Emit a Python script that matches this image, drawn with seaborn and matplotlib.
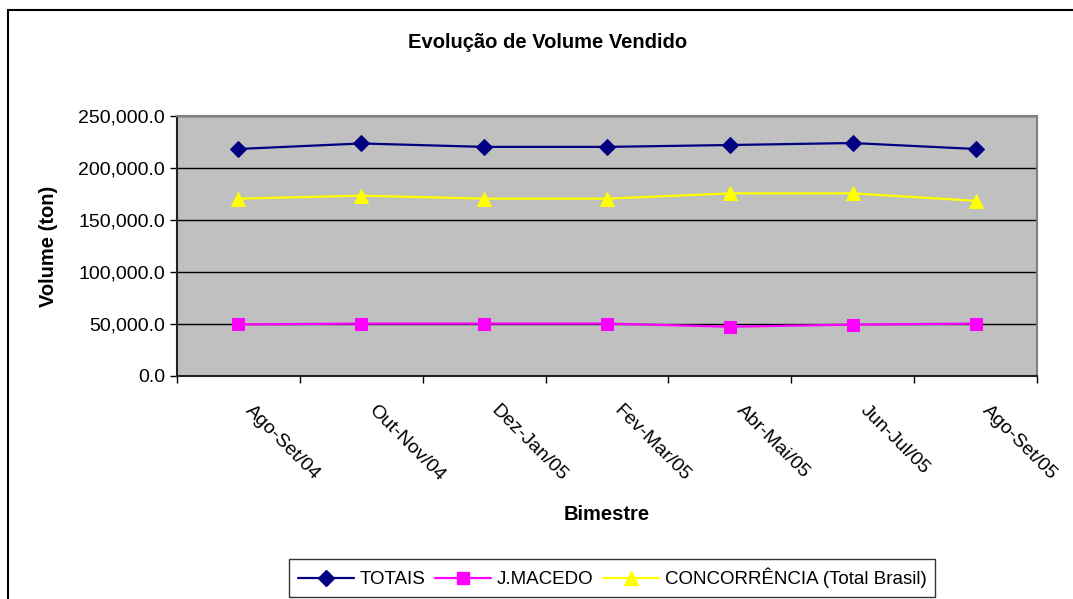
import numpy as np
import pandas as pd
import matplotlib
matplotlib.use("Agg")
import matplotlib.pyplot as plt
from matplotlib.lines import Line2D
from matplotlib.ticker import FuncFormatter, FixedLocator
import seaborn as sns

bimestres = ["Ago-Set/04", "Out-Nov/04", "Dez-Jan/05", "Fev-Mar/05",
             "Abr-Mai/05", "Jun-Jul/05", "Ago-Set/05"]
totais = [218300, 223600, 220300, 220300, 222100, 224000, 218300]
jmacedo = [49600, 50400, 50400, 50400, 47400, 49400, 50400]
concorrencia = [170500, 173400, 170500, 170500, 175600, 175600, 168500]
series_names = ["TOTAIS", "J.MACEDO", "CONCORRÊNCIA (Total Brasil)"]

sns.set_style("white")
plt.rcParams["font.family"] = ["Liberation Sans", "DejaVu Sans"]
for key in ["text.color", "axes.labelcolor", "xtick.color", "ytick.color"]:
    plt.rcParams[key] = "black"

df = pd.DataFrame({
    "pos": list(range(len(bimestres))) * 3,
    "volume": totais + jmacedo + concorrencia,
    "serie": [s for s in series_names for _ in bimestres],
})

colors = {"TOTAIS": "#000080", "J.MACEDO": "#FF00FF",
          "CONCORRÊNCIA (Total Brasil)": "#FFFF00"}
markers = {"TOTAIS": "D", "J.MACEDO": "s", "CONCORRÊNCIA (Total Brasil)": "^"}
msizes = {"TOTAIS": 8, "J.MACEDO": 8.5, "CONCORRÊNCIA (Total Brasil)": 10}

fig = plt.figure(figsize=(10.73, 5.99), dpi=100)
ax = fig.add_axes([177 / 1073, 1 - 376 / 599, 860 / 1073, 260 / 599])
ax.set_facecolor("#C0C0C0")

for name in series_names:
    sub = df[df["serie"] == name]
    sns.lineplot(data=sub, x="pos", y="volume", ax=ax, color=colors[name],
                 marker=markers[name], markersize=msizes[name],
                 markeredgecolor=colors[name], linewidth=1.6, legend=False)

ax.set_xlim(-0.5, len(bimestres) - 0.5)
ax.set_ylim(0, 250000)
ax.yaxis.set_major_locator(FixedLocator(np.arange(0, 250001, 50000)))
ax.yaxis.set_major_formatter(FuncFormatter(lambda v, p: f"{v:,.1f}"))
ax.grid(axis="y", color="black", linewidth=1)
ax.set_axisbelow(True)

ax.xaxis.set_major_locator(FixedLocator(np.arange(-0.5, len(bimestres), 1)))
ax.set_xticklabels([])
ax.tick_params(axis="both", direction="out", length=5, width=1, color="black",
               labelsize=14, bottom=True, left=True)
for i, lab in enumerate(bimestres):
    ax.annotate(lab, xy=(i, 0), xycoords=("data", "axes fraction"),
                xytext=(7, -23), textcoords="offset points",
                rotation=-45, rotation_mode="anchor", ha="left", va="center",
                fontsize=14)

for side in ["top", "right"]:
    ax.spines[side].set_color("#808080")
    ax.spines[side].set_linewidth(1.5)
for side in ["bottom", "left"]:
    ax.spines[side].set_color("#222222")
    ax.spines[side].set_linewidth(1.5)

ax.set_xlabel("")
ax.set_ylabel("Volume (ton)", fontsize=14.5, fontweight="bold")
ax.yaxis.set_label_coords((58 - 177) / 860, 0.5)
fig.text(607 / 1073, 1 - 514 / 599, "Bimestre", ha="center", va="center",
         fontsize=14.5, fontweight="bold")
fig.text(548 / 1073, 1 - 43 / 599, "Evolução de Volume Vendido", ha="center",
         va="center", fontsize=14.5, fontweight="bold")

handles = [Line2D([0], [0], color=colors[n], marker=markers[n],
                  markersize=msizes[n], markeredgecolor=colors[n], linewidth=1.6)
           for n in series_names]
leg = fig.legend(handles, series_names, loc="center",
                 bbox_to_anchor=(612 / 1073, 1 - 578 / 599), ncol=3,
                 frameon=True, fancybox=False, fontsize=13.5, handlelength=3,
                 columnspacing=0.5, handletextpad=0.3, borderpad=0.45)
leg.get_frame().set_edgecolor("black")
leg.get_frame().set_linewidth(1)

fig.add_artist(Line2D([8 / 1073, 1], [1 - 10 / 599, 1 - 10 / 599],
                      transform=fig.transFigure, color="black", linewidth=1.5))
fig.add_artist(Line2D([8 / 1073, 8 / 1073], [0, 1 - 10 / 599],
                      transform=fig.transFigure, color="black", linewidth=1.5))

fig.savefig("out.png", dpi=100, facecolor="white")
